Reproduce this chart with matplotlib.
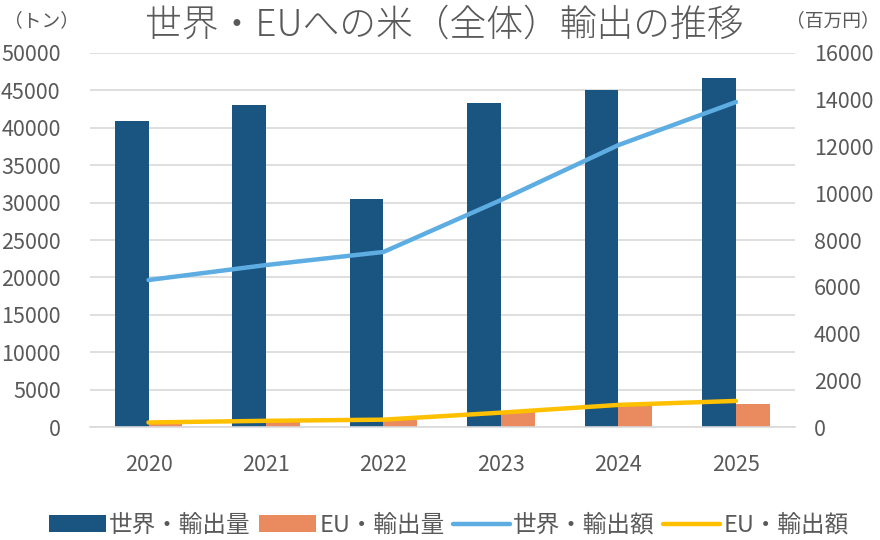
import matplotlib
matplotlib.use("Agg")
import matplotlib.pyplot as plt
import numpy as np

plt.rcParams['font.family'] = ['Noto Sans CJK JP', 'DejaVu Sans']

years = ["2020", "2021", "2022", "2023", "2024", "2025"]
world_volume = [40900, 43100, 30500, 43300, 45100, 46600]
eu_volume = [500, 900, 1000, 2000, 2900, 3100]
world_value = [6290, 6930, 7490, 9710, 12060, 13900]
eu_value = [200, 270, 320, 620, 950, 1120]

grey = '#595959'
c_world_bar = '#1A5480'
c_eu_bar = '#E98A5F'
c_world_line = '#5DADE2'
c_eu_line = '#FFC000'

fig = plt.figure(figsize=(8.8, 5.4), dpi=100)
ax = fig.add_axes([0.102, 0.209, 0.801, 0.693])
ax2 = ax.twinx()

x = np.arange(len(years))
w = 0.288
b1 = ax.bar(x - w/2, world_volume, w, color=c_world_bar, label='世界・輸出量', zorder=2)
b2 = ax.bar(x + w/2, eu_volume, w, color=c_eu_bar, label='EU・輸出量', zorder=2)
l1, = ax2.plot(x, world_value, color=c_world_line, lw=3.2, solid_capstyle='round', label='世界・輸出額', zorder=3)
l2, = ax2.plot(x, eu_value, color=c_eu_line, lw=3.2, solid_capstyle='round', label='EU・輸出額', zorder=3)

ax.set_xlim(-0.5, 5.5)
ax.set_ylim(0, 50000)
ax2.set_ylim(0, 16000)
ax.set_yticks(np.arange(0, 50001, 5000))
ax2.set_yticks(np.arange(0, 16001, 2000))
ax.set_xticks(x)
ax.set_xticklabels(years)
ax.grid(axis='y', color='#D9D9D9', lw=1.2, zorder=0)
ax.set_axisbelow(True)
for a in (ax, ax2):
    for s in a.spines.values():
        s.set_visible(False)
ax.spines['bottom'].set_visible(True)
ax.spines['bottom'].set_color('#D9D9D9')
ax.spines['bottom'].set_linewidth(1.2)
ax.tick_params(axis='y', length=0, pad=21, labelsize=15.5, labelcolor=grey)
ax.tick_params(axis='x', length=0, pad=19, labelsize=15.5, labelcolor=grey)
ax2.tick_params(axis='y', length=0, pad=14, labelsize=15.5, labelcolor=grey)

fig.text(0.505, 0.953, '世界・EUへの米（全体）輸出の推移', ha='center', va='center',
         fontsize=26.5, color=grey, fontweight='light')
fig.text(0.004, 0.962, '（トン）', ha='left', va='center', fontsize=13.5, color=grey)
fig.text(1.0, 0.962, '（百万円）', ha='right', va='center', fontsize=13.5, color=grey)

fig.legend(handles=[b1, b2, l1, l2], loc='center', bbox_to_anchor=(0.51, 0.027),
           ncol=4, frameon=False, fontsize=17, labelcolor=grey,
           handlelength=2.4, handletextpad=0.15, columnspacing=0.35)

fig.savefig('out.png', dpi=100)
